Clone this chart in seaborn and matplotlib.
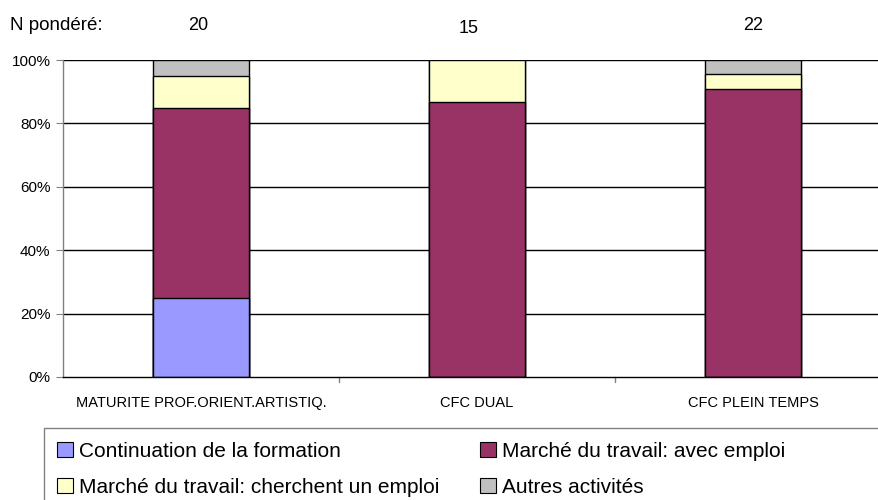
import matplotlib
matplotlib.use("Agg")
import matplotlib.pyplot as plt
import seaborn as sns
import numpy as np
import pandas as pd
from matplotlib.patches import Patch, Rectangle

categories = ["MATURITE PROF.ORIENT.ARTISTIQ.", "CFC DUAL", "CFC PLEIN TEMPS"]
n_pondere = [20, 15, 22]
series_names = ["Continuation de la formation", "Marché du travail: avec emploi",
                "Marché du travail: cherchent un emploi", "Autres activités"]
continuation = [25.0, 0.0, 0.0]
avec_emploi = [60.0, 86.7, 90.9]
cherchent = [10.0, 13.3, 4.6]
autres = [5.0, 0.0, 4.5]
colors = ["#9999FF", "#993366", "#FFFFCC", "#C0C0C0"]

sns.set_style("white")
plt.rcParams['font.family'] = ['Liberation Sans', 'DejaVu Sans']
plt.rcParams['text.color'] = 'black'
plt.rcParams['xtick.color'] = 'black'
plt.rcParams['ytick.color'] = 'black'

fig = plt.figure(figsize=(8.79, 5.0), dpi=100)
ax = fig.add_axes([63/879, 1-377/500, 828/879, 317/500])

series = [continuation, avec_emploi, cherchent, autres]
cum = np.cumsum(np.array(series), axis=0)
# draw cumulative totals from top to bottom
for i in range(len(series) - 1, -1, -1):
    df = pd.DataFrame({"cat": categories, "val": cum[i]})
    sns.barplot(data=df, x="cat", y="val", color=colors[i], saturation=1,
                width=0.35, edgecolor="black", linewidth=1.0, ax=ax)

ax.set_ylim(0, 100)
ax.set_xlim(-0.5, 2.5)
ax.set_yticks([0, 20, 40, 60, 80, 100])
ax.set_yticklabels(["0%", "20%", "40%", "60%", "80%", "100%"], fontsize=11)
for y in [20, 40, 60, 80, 100]:
    ax.axhline(y, color="black", linewidth=1.0, zorder=0)
ax.set_xlabel("")
ax.set_ylabel("")
ax.set_xticks([0, 1, 2])
ax.set_xticklabels(categories, fontsize=10.5)
ax.tick_params(axis="x", length=0, pad=14, labelcolor="black")
ax.tick_params(axis="y", left=True, length=5, color="#808080", pad=4, labelcolor="black")
for s in ["top", "right"]:
    ax.spines[s].set_visible(False)
ax.spines["left"].set_color("#808080")
ax.spines["bottom"].set_color("black")
ax.spines["left"].set_linewidth(1.0)
ax.spines["bottom"].set_linewidth(1.0)
# category boundary ticks
for b in [0.5, 1.5]:
    ax.plot([b, b], [0, -1.6], color="#808080", linewidth=1.0, clip_on=False)

fig.text(10/879, 1-25/500, "N pondéré:", fontsize=13.5, va="center", ha="left")
n_y = [1.11, 1.10, 1.11]
n_dx = [-0.01, -0.03, 0.0]
for i, n in enumerate(n_pondere):
    ax.text(i + n_dx[i], n_y[i], str(n), transform=ax.get_xaxis_transform(),
            ha="center", va="center", fontsize=13)

# legend box
fig.patches.append(Rectangle((44/879, -0.05), 0.99, (1-428/500) + 0.05,
                             transform=fig.transFigure, facecolor="white",
                             edgecolor="#808080", linewidth=1.0, zorder=0))

handles = [Patch(facecolor=c, edgecolor="black", linewidth=0.8) for c in colors]
order = [0, 2, 1, 3]
leg = fig.legend([handles[i] for i in order], [series_names[i] for i in order],
                 ncol=2, loc="upper left", bbox_to_anchor=(57/879, 1-442/500),
                 fontsize=15, frameon=False, borderpad=0,
                 handlelength=0.75, handleheight=0.75, handletextpad=0.3,
                 columnspacing=1.95, labelspacing=0.8, borderaxespad=0)

fig.savefig("out.png", dpi=100)
